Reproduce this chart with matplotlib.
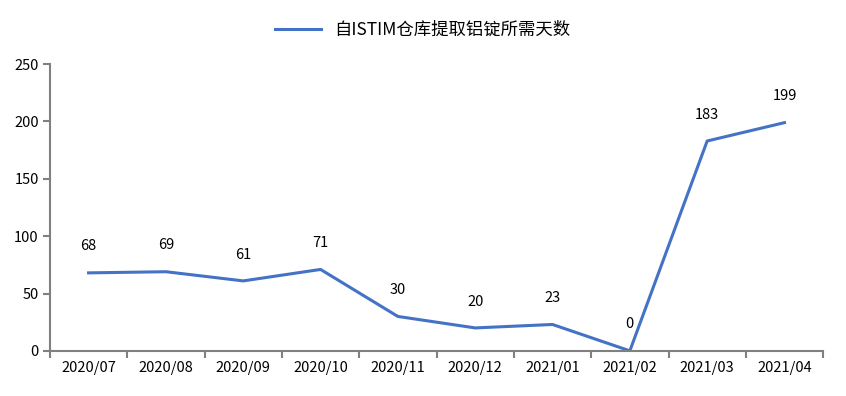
import matplotlib
matplotlib.use("Agg")
import matplotlib.pyplot as plt

plt.rcParams["font.family"] = ["Noto Sans CJK SC", "DejaVu Sans"]

months = ["2020/07", "2020/08", "2020/09", "2020/10", "2020/11",
          "2020/12", "2021/01", "2021/02", "2021/03", "2021/04"]
days = [68, 69, 61, 71, 30, 20, 23, 0, 183, 199]
series_name = "自ISTIM仓库提取铝锭所需天数"

fig = plt.figure(figsize=(8.46, 3.96), dpi=100)
ax = fig.add_axes([0.059, 0.114, 0.914, 0.724])

x = list(range(len(months)))
line, = ax.plot(x, days, color="#4472C4", linewidth=2.2, label=series_name)

for xi, v in zip(x, days):
    ax.annotate(str(v), xy=(xi, v), xytext=(0, 19), textcoords="offset points",
                ha="center", va="center", fontsize=10.5, color="#000000")

ax.set_xlim(-0.5, len(months) - 0.5)
ax.set_ylim(0, 250)
ax.set_yticks([0, 50, 100, 150, 200, 250])
ax.set_xticks(x)
ax.set_xticklabels(months)
ax.set_xticks([i - 0.5 for i in range(len(months) + 1)], minor=True)
ax.tick_params(axis="x", which="major", length=0, labelsize=10.5, pad=7)
ax.tick_params(axis="x", which="minor", length=5, width=1.5, color="#808080")
ax.tick_params(axis="y", length=5, width=1.5, color="#808080", labelsize=10.5, pad=3)

for side in ["top", "right"]:
    ax.spines[side].set_visible(False)
for side in ["left", "bottom"]:
    ax.spines[side].set_color("#808080")
    ax.spines[side].set_linewidth(1.5)

fig.legend(handles=[line], loc="center", bbox_to_anchor=(0.5, 0.925),
           frameon=False, fontsize=12.5, handlelength=2.6)

fig.savefig("out.png", dpi=100)
